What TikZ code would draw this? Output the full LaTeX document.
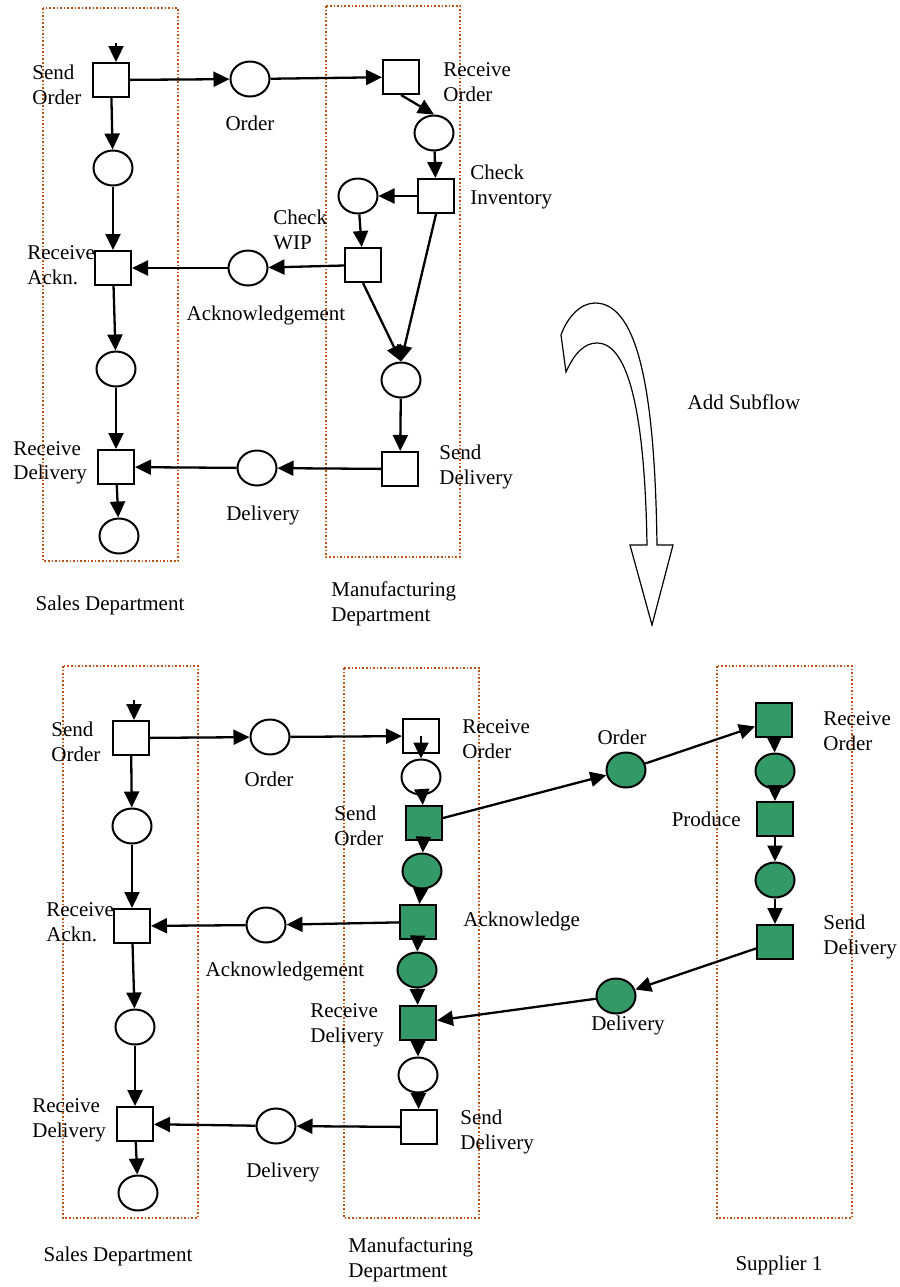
\documentclass[tikz,border=0pt]{standalone}
\usepackage{fontspec}
\setmainfont{Liberation Serif}
\usepackage{xcolor}
\usepackage{tikz}
\usetikzlibrary{arrows.meta,shapes.geometric}
\definecolor{pnlane}{RGB}{190,80,20}
\definecolor{pngreen}{RGB}{51,153,102}
\tikzset{
  pnnode/.style={draw=black, line width=1pt, inner sep=0pt},
  trans/.style={pnnode, rectangle, minimum width=18pt, minimum height=17pt, fill=white},
  place/.style={pnnode, ellipse, minimum width=19.5pt, minimum height=17.5pt, fill=white},
  gtrans/.style={trans, fill=pngreen},
  gplace/.style={place, fill=pngreen},
  arr/.style={-{Triangle[length=8pt,width=7.5pt]}, line width=1.15pt},
  lane/.style={draw=pnlane, densely dotted, line width=0.8pt},
  lbl/.style={inner sep=0pt, align=left, font=\fontsize{10.5}{12.3}\selectfont},
  bigarr/.style={draw=black, line width=0.6pt, fill=white, line join=miter}
}

\begin{document}
\begin{tikzpicture}[x=0.5pt,y=-0.5pt]
  \useasboundingbox (0,0) rectangle (900,1287);
  % before
  \draw[lane] (43,8) rectangle (178,561);
  \draw[lane] (326,6) rectangle (460,557);
  \node[trans] (sendOrdA) at (111,80) {};
  \node[place] (ordA) at (250,79) {};
  \node[trans] (recvOrdA) at (401,77) {};
  \node[place] (pRecvA) at (434,133) {};
  \node[trans] (chkInvA) at (436,196) {};
  \node[place] (pInvA) at (358,196) {};
  \node[trans] (chkWipA) at (363,265) {};
  \node[place] (ackA) at (248,268) {};
  \node[trans] (recvAckA) at (113,268) {};
  \node[place] (pSendA) at (113,168) {};
  \node[place] (pAckA) at (116,369) {};
  \node[trans] (recvDelA) at (116,467) {};
  \node[place] (pEndA) at (119,536) {};
  \node[place] (delA) at (257,468) {};
  \node[trans] (sendDelA) at (400,469) {};
  \node[place] (pMergeA) at (401,380) {};
  \coordinate (inA) at (116,43);
  \draw[arr] (inA) -- (inA |- sendOrdA.north);
  \draw[arr] (sendOrdA) -- (ordA);
  \draw[arr] (ordA) -- (recvOrdA);
  \draw[arr] (recvOrdA.south) -- (pRecvA.north);
  \draw[arr] (pRecvA) -- (chkInvA);
  \draw[arr] (chkInvA) -- (pInvA);
  \draw[arr] (pInvA) -- (chkWipA);
  \draw[arr] (chkWipA) -- (ackA);
  \draw[arr] (ackA) -- (recvAckA);
  \draw[arr] (sendOrdA) -- (pSendA);
  \draw[arr] (pSendA) -- (recvAckA);
  \draw[arr] (recvAckA) -- (pAckA);
  \draw[arr] (pAckA) -- (recvDelA);
  \draw[arr] (recvDelA) -- (pEndA);
  \draw[arr] (chkWipA.south) -- (pMergeA.north);
  \draw[arr] (chkInvA.south) -- (pMergeA.north);
  \draw[arr] (pMergeA) -- (sendDelA);
  \draw[arr] (sendDelA) -- (delA);
  \draw[arr] (delA) -- (recvDelA);
  \node[lbl, anchor=west] (lSendOrdA) at (32,85) {Send\\Order};
  \node[lbl] (lOrdA) at (250,123) {Order};
  \node[lbl, anchor=west] (lRecvOrdA) at (443,82) {Receive\\Order};
  \node[lbl, anchor=west] (lChkInvA) at (470,187) {Check\\Inventory};
  \node[lbl, anchor=west] (lChkWipA) at (273,230) {Check\\WIP};
  \node[lbl] (lAckA) at (266,315) {Acknowledgement};
  \node[lbl, anchor=west] (lRecvAckA) at (27,265) {Receive\\Ackn.};
  \node[lbl, anchor=west] (lRecvDelA) at (13,463) {Receive\\Delivery};
  \node[lbl] (lDelA) at (263,515) {Delivery};
  \node[lbl, anchor=west] (lSendDelA) at (439,467) {Send\\Delivery};
  \node[lbl] (lSalesA) at (110,605) {Sales Department};
  \node[lbl, anchor=west] (lManA) at (331,604) {Manufacturing\\Department};

  % refinement arrow
  \draw[bigarr] (657,545) .. controls (655,400) and (640,303) .. (595,303)
    .. controls (580,303) and (567,318) .. (561,335) -- (566,372)
    .. controls (575,352) and (585,343) .. (597,343)
    .. controls (630,343) and (645,420) .. (647,545)
    -- (630,545) -- (652,625) -- (673,545) -- cycle;
  \node[lbl] (lAdd) at (744,402) {Add Subflow};

  % after
  \draw[lane] (63,666) rectangle (198,1218);
  \draw[lane] (344,668) rectangle (479,1218);
  \draw[lane] (717,666) rectangle (852,1218);
  \node[trans] (sendOrdB) at (131,738) {};
  \node[place] (ordB) at (270,737) {};
  \node[trans] (recvOrdB) at (421,736) {};
  \node[place] (pRecvB) at (421,777) {};
  \node[gtrans] (sendSubB) at (424,823) {};
  \node[gplace] (pSubB) at (422,871) {};
  \node[gtrans] (ackTB) at (418,922) {};
  \node[gplace] (pAckTB) at (417,970) {};
  \node[gtrans] (recvSubB) at (418,1023) {};
  \node[place] (pDelB) at (418,1075) {};
  \node[trans] (sendDelB) at (419,1127) {};
  \node[place] (ackB) at (266,925) {};
  \node[trans] (recvAckB) at (132,926) {};
  \node[place] (pSendB) at (132,826) {};
  \node[place] (pAckB) at (135,1027) {};
  \node[trans] (recvDelB) at (135,1124) {};
  \node[place] (pEndB) at (138,1193) {};
  \node[place] (delB) at (276,1126) {};
  \node[gplace] (subOrd) at (626,770) {};
  \node[gtrans] (supRecv) at (774,720) {};
  \node[gplace] (supP1) at (775,771) {};
  \node[gtrans] (supProd) at (775,819) {};
  \node[gplace] (supP2) at (775,880) {};
  \node[gtrans] (supSend) at (775,942) {};
  \node[gplace] (subDel) at (616,996) {};
  \coordinate (inB) at (134,700);
  \draw[arr] (inB) -- (inB |- sendOrdB.north);
  \draw[arr] (sendOrdB) -- (ordB);
  \draw[arr] (ordB) -- (recvOrdB);
  \draw[arr] (recvOrdB.center) -- (pRecvB.north);
  \draw[arr] (pRecvB) -- (sendSubB);
  \draw[arr] (sendSubB) -- (pSubB);
  \draw[arr] (pSubB) -- (ackTB);
  \draw[arr] (ackTB) -- (pAckTB);
  \draw[arr] (pAckTB) -- (recvSubB);
  \draw[arr] (recvSubB) -- (pDelB);
  \draw[arr] (pDelB) -- (sendDelB);
  \draw[arr] (ackTB) -- (ackB);
  \draw[arr] (ackB) -- (recvAckB);
  \draw[arr] (sendOrdB) -- (pSendB);
  \draw[arr] (pSendB) -- (recvAckB);
  \draw[arr] (recvAckB) -- (pAckB);
  \draw[arr] (pAckB) -- (recvDelB);
  \draw[arr] (recvDelB) -- (pEndB);
  \draw[arr] (sendDelB) -- (delB);
  \draw[arr] (delB) -- (recvDelB);
  \draw[arr] (sendSubB) -- (subOrd);
  \draw[arr] (subOrd) -- (supRecv);
  \draw[arr] (supRecv) -- (supP1);
  \draw[arr] (supP1) -- (supProd);
  \draw[arr] (supProd) -- (supP2);
  \draw[arr] (supP2) -- (supSend);
  \draw[arr] (supSend) -- (subDel);
  \draw[arr] (subDel) -- (recvSubB);
  \node[lbl, anchor=west] (lSendOrdB) at (51,742) {Send\\Order};
  \node[lbl] (lOrdB) at (269,779) {Order};
  \node[lbl, anchor=west] (lRecvOrdB) at (462,739) {Receive\\Order};
  \node[lbl, anchor=west] (lSendSubB) at (334,826) {Send\\Order};
  \node[lbl] (lSubOrd) at (622,737) {Order};
  \node[lbl, anchor=west] (lSupRecv) at (823,731) {Receive\\Order};
  \node[lbl, anchor=east] (lSupProd) at (741,819) {Produce};
  \node[lbl, anchor=west] (lAckTB) at (463,921) {Acknowledge};
  \node[lbl] (lAckB) at (285,971) {Acknowledgement};
  \node[lbl, anchor=west] (lRecvAckB) at (46,922) {Receive\\Ackn.};
  \node[lbl, anchor=west] (lSupSend) at (823,937) {Send\\Delivery};
  \node[lbl] (lSubDel) at (628,1025) {Delivery};
  \node[lbl, anchor=west] (lRecvSubB) at (310,1025) {Receive\\Delivery};
  \node[lbl, anchor=west] (lRecvDelB) at (32,1120) {Receive\\Delivery};
  \node[lbl] (lDelB) at (283,1172) {Delivery};
  \node[lbl, anchor=west] (lSendDelB) at (460,1132) {Send\\Delivery};
  \node[lbl] (lSalesB) at (118,1256) {Sales Department};
  \node[lbl, anchor=west] (lManB) at (348,1260) {Manufacturing\\Department};
  \node[lbl] (lSup) at (779,1265) {Supplier 1};
\end{tikzpicture}
\end{document}
